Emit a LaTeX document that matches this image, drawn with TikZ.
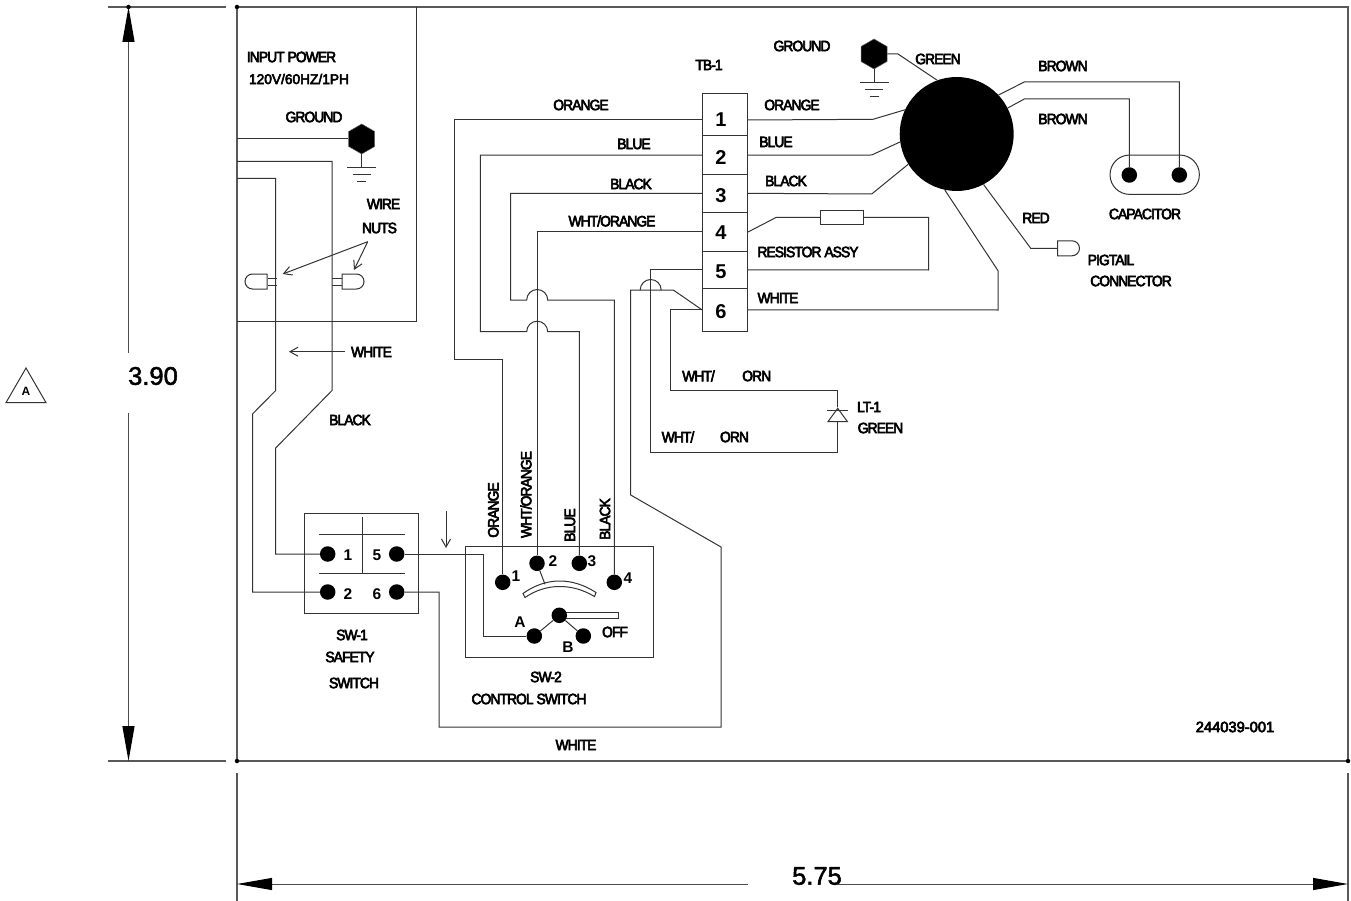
\documentclass[tikz,border=0pt]{standalone}
\usepackage{fontspec}
\setmainfont{Liberation Sans}
\newfontfamily\wirefont[FakeStretch=0.92,LetterSpace=-6,FakeBold=4]{Liberation Sans}
\newfontfamily\partfont[FakeStretch=0.98,FakeBold=4]{Liberation Sans}
\newfontfamily\sizefont[FakeBold=2]{Liberation Sans}
\usepackage{tikz}
\usetikzlibrary{arrows.meta}
\usetikzlibrary{shapes.geometric}
\usetikzlibrary{shapes.misc}
\tikzset{
	wire/.style={line width=1pt, black!80},
	frameline/.style={line width=1.2pt, black!65},
	dimline/.style={line width=1.2pt, black!70},
	lbl/.style={font=\wirefont\fontsize{15}{15}\selectfont, inner sep=0pt},
	num/.style={font=\bfseries\fontsize{15.5}{15.5}\selectfont, inner sep=0pt},
	dimtext/.style={font=\sizefont\fontsize{25.5}{25.5}\selectfont, inner sep=0pt},
	dot/.style={circle, fill=black, inner sep=0pt, minimum size=15.5pt},
	tick/.style={circle, fill=black, inner sep=0pt, minimum size=4.5pt},
	bolt/.style={regular polygon, regular polygon sides=6, shape border rotate=30, fill=black, draw=black!60, line width=0.5pt, inner sep=0pt, minimum size=30pt},
	termcell/.style={draw, wire, minimum width=45pt, inner sep=0pt},
	nutshape/.style={draw, wire, rounded rectangle, inner sep=0pt, minimum width=22pt, minimum height=15pt},
	barb/.style={wire, -{Straight Barb[length=8pt,width=9pt]}},
	dimhead/.style={dimline, {Triangle[length=35pt,width=12pt,color=black,fill=black]}-}
}
% one cell of the terminal block: number, top y, bottom y, digit y
\newcommand{\termrow}[4] {
	\node[termcell, minimum height=#3-#2] (tb#1) at (725,#2/2+#3/2) {};
	\node[font=\bfseries\fontsize{20}{20}\selectfont, inner sep=0pt] (tbn#1) at (721,#4) {#1};
}
% hump where one wire crosses another
\newcommand{\hump}[2] {-- (#1-10.5,#2) arc[start angle=180, end angle=360, radius=10.5]}
% three bars under a bolt
\newcommand{\groundbars}[1] {
	\draw[wire] (#1.south) -- ++(0,13);
	\draw[wire] (#1.south) ++(-14.5,13) -- ++(29,0);
	\draw[wire] (#1.south) ++(-9,20) -- ++(18,0);
	\draw[wire] (#1.south) ++(-4.5,27) -- ++(9,0);
}
\begin{document}
\begin{tikzpicture}[x=1pt,y=-1pt]
	\useasboundingbox (0,0) rectangle (1351,901);

	% Sheet outline
	\coordinate (sheettl) at (237,7);
	\coordinate (sheettr) at (1348,7);
	\coordinate (sheetbl) at (237,761);
	\coordinate (sheetbr) at (1348,761);
	\draw[frameline] (sheettl) -- (sheettr) -- (sheetbr) -- (sheetbl) -- cycle;
	\draw[frameline] (108,7) -- (226,7);
	\draw[frameline] (108,761) -- (226,761);
	\draw[frameline] (237,773) -- (237,901);
	\draw[frameline] (1348,773) -- (1348,901);
	\node[tick] (ticka) at (128.5,7) {};
	\node[tick] (tickb) at (sheettl) {};
	\node[tick] (tickc) at (sheetbl) {};
	\node[tick] (tickd) at (sheetbr) {};

	% Dimensions
	\coordinate (dimvt) at (128.5,7);
	\coordinate (dimvb) at (128.5,761);
	\coordinate (dimhl) at (237,884);
	\coordinate (dimhr) at (1348,884);
	\draw[dimhead] (dimvt) -- (128.5,353);
	\draw[dimhead] (dimvb) -- (128.5,413);
	\draw[dimhead, line width=1pt] (dimhl) -- (748,884);
	\draw[dimhead, line width=1pt] (dimhr) -- (838,884);
	\node[dimtext] (dimheight) at (153,376) {3.90};
	\node[dimtext] (dimwidth) at (817,876) {5.75};
	\node[draw, wire, regular polygon, regular polygon sides=3, minimum size=46pt, inner sep=0pt, font=\bfseries\fontsize{12}{12}\selectfont, text=black] (rev) at (26,391) {A};

	% Input power box
	\draw[wire] (416,7) -- (416,321) -- (237,321);
	\node[lbl] (inputa) at (291.5,57) {INPUT POWER};
	\node[lbl, font=\partfont\fontsize{14}{14}\selectfont] (inputb) at (299,79) {120V/60HZ/1PH};
	\node[lbl] (grounda) at (314,117) {GROUND};
	\node[bolt] (bolta) at (361.7,139) {};
	\groundbars{bolta}
	\draw[wire] (237,139) -- (bolta);
	\node[lbl] (wirea) at (383.5,204) {WIRE};
	\node[lbl] (nutsa) at (379.5,228) {NUTS};
	\node[nutshape, rounded rectangle right arc=none] (nutl) at (256,281.5) {};
	\node[nutshape, rounded rectangle left arc=none] (nutr) at (353,281.5) {};
	\draw[wire] (nutl.east) ++(0,-3.5) -- ++(9,0);
	\draw[wire] (nutl.east) ++(0,3.5) -- ++(9,0);
	\draw[wire] (nutr.west) ++(0,-3.5) -- ++(-10,0);
	\draw[wire] (nutr.west) ++(0,3.5) -- ++(-10,0);
	\coordinate (nutpoint) at (367.7,241.7);
	\draw[barb] (nutpoint) -- (282.7,274);
	\draw[barb] (nutpoint) -- (354,270);
	\coordinate (whitefrom) at (345,351.7);
	\draw[barb] (whitefrom) -- (289,351.7);
	\node[lbl] (whitea) at (371.5,352) {WHITE};
	\node[lbl] (blacka) at (350,420) {BLACK};

	% SW-1
	\node[draw, wire, minimum width=114pt, minimum height=100pt, inner sep=0pt] (swa) at (361.3,563.3) {};
	\draw[wire] (319.3,534.3) -- (405,534.3);
	\draw[wire] (319.3,573) -- (405,573);
	\draw[wire] (362.3,517.3) -- (362.3,573);
	\node[dot] (swaone) at (327.7,554) {};
	\node[dot] (swafive) at (396.7,554) {};
	\node[dot] (swatwo) at (327.7,592) {};
	\node[dot] (swasix) at (396.7,592) {};
	\node[num] (swanuma) at (348,555) {1};
	\node[num] (swanumb) at (377,555) {5};
	\node[num] (swanumc) at (348,594) {2};
	\node[num] (swanumd) at (377,594) {6};
	\node[lbl] (swalba) at (352,635) {SW-1};
	\node[lbl] (swalbb) at (350,657) {SAFETY};
	\node[lbl] (swalbc) at (354,683) {SWITCH};
	\coordinate (downfrom) at (446,510.7);
	\draw[barb] (downfrom) -- (446,548);

	% SW-2
	\node[draw, wire, minimum width=187.6pt, minimum height=111pt, inner sep=0pt] (swb) at (559.5,601.5) {};
	\node[dot] (swbone) at (502.7,582.3) {};
	\node[dot] (swbtwo) at (537,563.3) {};
	\node[dot] (swbthree) at (579.3,563.3) {};
	\node[dot] (swbfour) at (614.3,582.3) {};
	\node[dot] (swba) at (534.3,636) {};
	\node[dot] (swbb) at (583.3,636) {};
	\node[num] (swbnuma) at (516,576) {1};
	\node[num] (swbnumb) at (553,561) {2};
	\node[num] (swbnumc) at (592,561) {3};
	\node[num] (swbnumd) at (628,578) {4};
	\node[num] (swbla) at (520,622) {A};
	\node[num] (swblb) at (568,647) {B};
	\node[lbl] (swbloff) at (615,632) {OFF};
	\draw[wire, fill=white] (559,612.3) rectangle (618.3,618.3);
	\node[dot] (swbc) at (559.3,615.3) {};
	\draw[wire] (swbc) -- (swba);
	\draw[wire] (swbc) -- (swbb);
	\draw[wire] (523,593.5) .. controls (546,577) and (572,577) .. (596,592.5) -- (594.5,596.5) .. controls (572,583) and (546,583) .. (525,597.5) -- cycle;
	\draw[wire] (swbtwo) -- (545,584.3);
	\node[lbl, rotate=90] (swblba) at (493.3,510) {ORANGE};
	\node[lbl, rotate=90] (swblbb) at (526,494.5) {WHT/ORANGE};
	\node[lbl, rotate=90] (swblbc) at (570,525) {BLUE};
	\node[lbl, rotate=90] (swblbd) at (605,519) {BLACK};
	\node[lbl] (swblbe) at (546,677) {SW-2};
	\node[lbl] (swblbf) at (529,699) {CONTROL SWITCH};

	% Terminal block
	\termrow{1}{93.3}{136}{120}
	\termrow{2}{136}{174.3}{158}
	\termrow{3}{174.3}{212.3}{196}
	\termrow{4}{212.3}{251.7}{233}
	\termrow{5}{251.7}{288}{272}
	\termrow{6}{288}{331.7}{312}
	\node[lbl] (tblbl) at (709,65) {TB-1};

	% Motor
	\node[circle, fill=black, inner sep=0pt, minimum size=114pt] (motor) at (956.7,134) {};
	\node[bolt] (boltb) at (874,54) {};
	\groundbars{boltb}
	\draw[wire] (boltb) -- (898,54) -- (motor.110);
	\node[lbl] (groundb) at (802,46) {GROUND};
	\node[lbl] (greena) at (938,59) {GREEN};

	% Capacitor
	\node[draw, wire, rounded corners=19.5pt, minimum width=89.3pt, minimum height=39.3pt, inner sep=0pt] (capbody) at (1154.7,174.7) {};
	\node[dot] (capa) at (1129.3,175) {};
	\node[dot] (capb) at (1179.3,175) {};
	\draw[wire] (motor.43) -- (1024.3,82) -| (capb);
	\draw[wire] (motor.27) -- (1024.3,99) -| (capa);
	\node[lbl] (brownb) at (1063,66) {BROWN};
	\node[lbl] (brownc) at (1063,119) {BROWN};
	\node[lbl] (caplbl) at (1145,214) {CAPACITOR};

	% Pigtail
	\node[nutshape, rounded rectangle left arc=none] (pigtail) at (1068.5,248.3) {};
	\draw[wire] (motor.298) -- (1030.7,248.3) -- (pigtail);
	\node[lbl] (reda) at (1036,218) {RED};
	\node[lbl] (pigtaila) at (1111,260) {PIGTAIL};
	\node[lbl] (pigtailb) at (1131,281) {CONNECTOR};

	% Terminal block to motor
	\draw[wire] (tb1.east |- tbn1) -- (873,119.3) -- (motor.155);
	\draw[wire] (tb2.east) -- (871.7,155) -- (motor.188);
	\draw[wire] (tb3.east) -- (871.7,194) -- (motor.212);
	\draw[wire] (tb6.east) -- (998,310) -- (998,270.7) -- (motor.258);
	\node[lbl] (orangeb) at (792,105) {ORANGE};
	\node[lbl] (blueb) at (776,142) {BLUE};
	\node[lbl] (blackc) at (786,181) {BLACK};
	\node[lbl] (whiteb) at (778,298) {WHITE};

	% Resistor
	\node[draw, wire, minimum width=42.7pt, minimum height=13.3pt, inner sep=0pt] (resistor) at (842,217.5) {};
	\draw[wire] (tb4.east) -- (776,217.5) -- (resistor);
	\draw[wire] (resistor) -| (928.7,270) -- (tb5.east);
	\node[lbl] (resistorlbl) at (808,252) {RESISTOR ASSY};

	% Terminal block to SW-2
	\draw[wire] (tb1.west |- tbn1) -| (454.7,359) -| (swbone);
	\draw[wire] (tb2.west) -| (480.3,331.7) \hump{537.2}{331.7} -| (swbthree);
	\draw[wire] (tb3.west) -| (510.7,300) \hump{537.2}{300} -| (swbfour);
	\draw[wire] (tb4.west) -| (swbtwo);
	\node[lbl] (orangea) at (581,105) {ORANGE};
	\node[lbl] (bluea) at (634,144) {BLUE};
	\node[lbl] (blackb) at (631,184) {BLACK};
	\node[lbl] (whtorange) at (612,221) {WHT/ORANGE};

	% SW-1 to supply and SW-2
	\draw[wire] (237,161.5) -| (332,390.5) -- (275.7,448) |- (swaone);
	\draw[wire] (237,178.5) -| (275.7,390.5) -- (252.5,414) |- (swatwo);
	\draw[wire] (swafive) -| (483.3,636) -- (swba);
	\draw[wire] (tb6.west) -- (673.3,290) \hump{650.7}{290} -| (630.7,495) -- (721,547) |- (439,727) |- (swasix);
	\node[lbl] (whitec) at (576,745) {WHITE};

	% Lamp
	\node[isosceles triangle, isosceles triangle apex angle=72, shape border rotate=90, draw, wire, inner sep=0pt, minimum height=13.3pt, minimum width=19.4pt] (lamp) at (837.7,416.7) {};
	\draw[wire] (827,410) -- (848,410);
	\draw[wire] (tb6.west) -| (670,390.7) -| (lamp.apex);
	\draw[wire] (tb5.west) -| (650.3,452.7) -| (lamp.south);
	\node[lbl] (lampa) at (869,407) {LT-1};
	\node[lbl] (lampb) at (880.5,428) {GREEN};
	\node[lbl] (whta) at (698.5,376) {WHT/};
	\node[lbl] (orna) at (756.7,376) {ORN};
	\node[lbl] (whtb) at (678,437) {WHT/};
	\node[lbl] (ornb) at (734.5,437) {ORN};

	\node[lbl, font=\partfont\fontsize{15}{15}\selectfont] (partno) at (1235,727) {244039-001};
\end{tikzpicture}
\end{document}
